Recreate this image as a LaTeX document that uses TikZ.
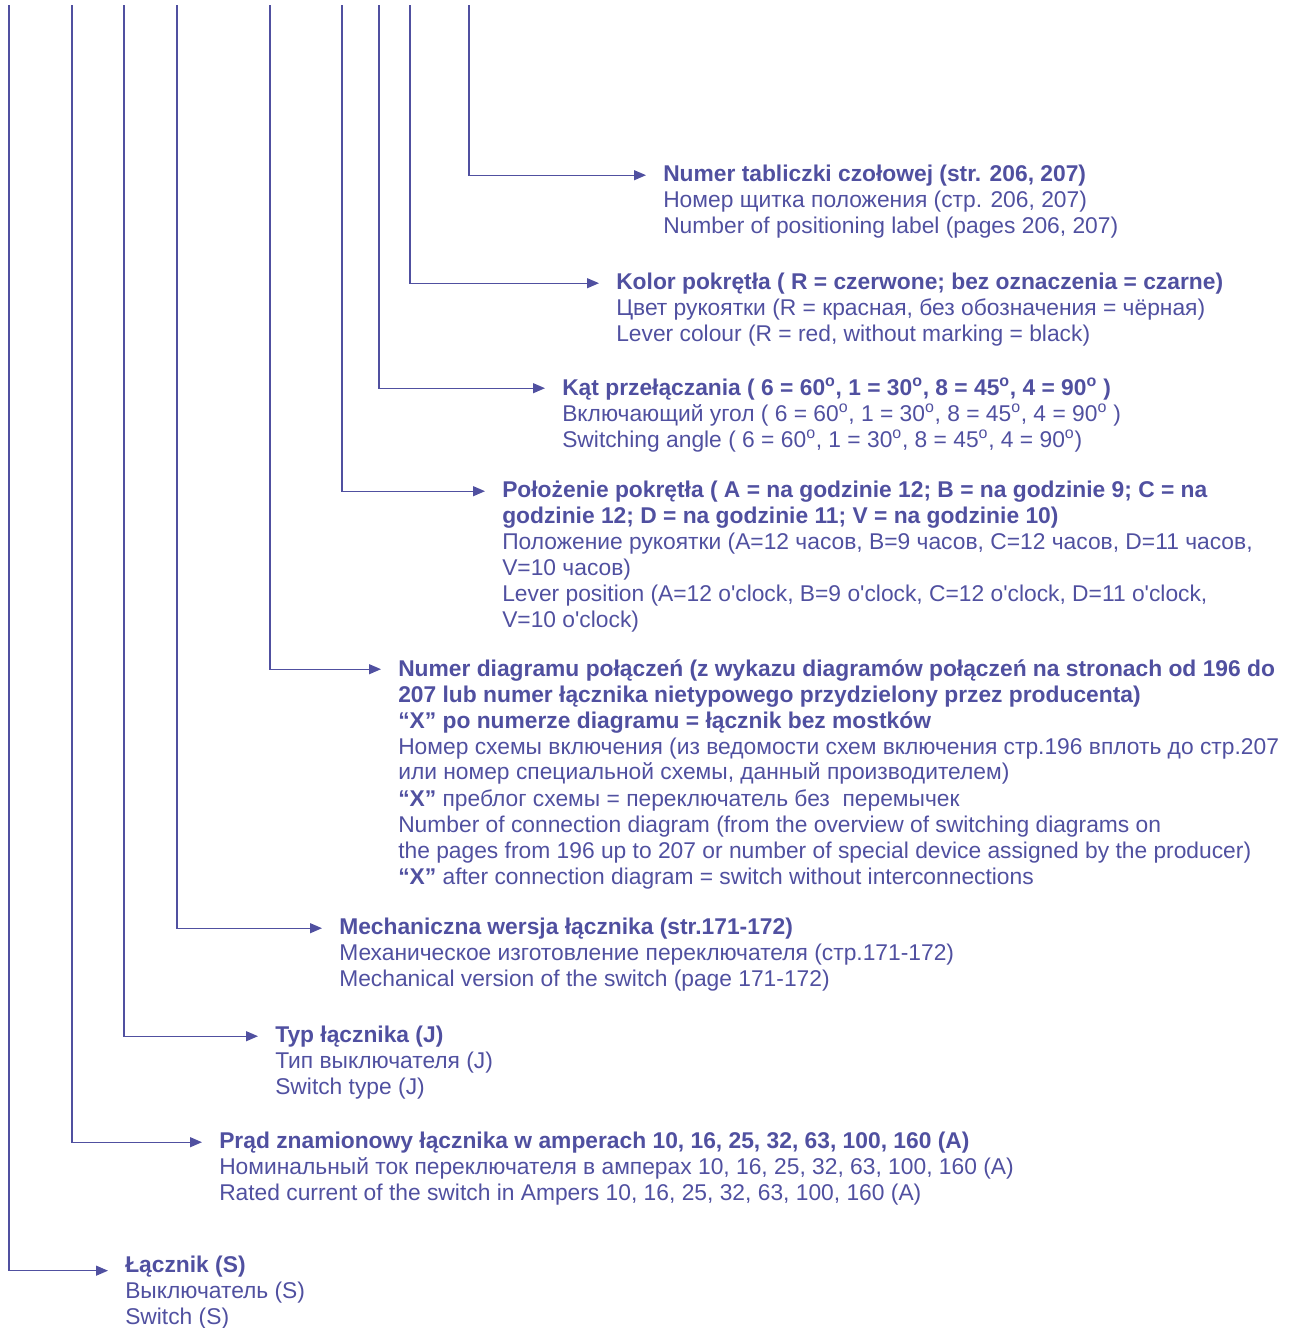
\documentclass[tikz,border=0pt]{standalone}
\usepackage{fontspec}
\setmainfont{Liberation Sans}
\usetikzlibrary{arrows.meta}
\definecolor{legblue}{RGB}{80,80,160}

\begin{document}
\begin{tikzpicture}[x=0.75pt,y=-0.75pt]
    \useasboundingbox (0,0) rectangle (1290,1328);
    \tikzset{LegendStyle/.style={anchor=north west, inner sep=0pt, align=left,
        text=legblue, font=\fontsize{17.1}{19.5}\selectfont,
        execute at begin node=\strut}}
    \tikzset{LeadStyle/.style={draw=legblue, line width=0.9pt,
        -{Triangle[length=9pt,width=7.5pt]}, shorten >=12.75pt}}

    \coordinate (topPlate)  at (469,5);
    \coordinate (topColour) at (410,5);
    \coordinate (topAngle)  at (379,5);
    \coordinate (topLever)  at (342,5);
    \coordinate (topDiag)   at (270,5);
    \coordinate (topMech)   at (177,5);
    \coordinate (topType)   at (124,5);
    \coordinate (topAmp)    at (72,5);
    \coordinate (topSwitch) at (9,5);

    \node[LegendStyle] (Plate) at (663,165)
        {\textbf{Numer tabliczki czołowej (str. 206, 207)}\\
         Номер щитка положения (стр. 206, 207)\\
         Number of positioning label (pages 206, 207)};
    \node[LegendStyle] (Colour) at (616,273)
        {\textbf{Kolor pokrętła ( R = czerwone; bez oznaczenia = czarne)}\\
         Цвет рукоятки (R = красная, без обозначения = чёрная)\\
         Lever colour (R = red, without marking = black)};
    \node[LegendStyle] (Angle) at (562,378)
        {\textbf{Kąt przełączania ( 6 = 60\textsuperscript{o}, 1 = 30\textsuperscript{o}, 8 = 45\textsuperscript{o}, 4 = 90\textsuperscript{o} )}\\
         Включающий угол ( 6 = 60\textsuperscript{o}, 1 = 30\textsuperscript{o}, 8 = 45\textsuperscript{o}, 4 = 90\textsuperscript{o} )\\
         Switching angle ( 6 = 60\textsuperscript{o}, 1 = 30\textsuperscript{o}, 8 = 45\textsuperscript{o}, 4 = 90\textsuperscript{o})};
    \node[LegendStyle] (Lever) at (502,481)
        {\textbf{Położenie pokrętła ( A = na godzinie 12; B = na godzinie 9; C = na}\\
         \textbf{godzinie 12; D = na godzinie 11; V = na godzinie 10)}\\
         Положение рукоятки (A=12 часов, B=9 часов, C=12 часов, D=11 часов,\\
         V=10 часов)\\
         Lever position (A=12 o\textquotesingle clock, B=9 o\textquotesingle clock, C=12 o\textquotesingle clock, D=11 o\textquotesingle clock,\\
         V=10 o\textquotesingle clock)};
    \node[LegendStyle] (Diag) at (398,659)
        {\textbf{Numer diagramu połączeń (z wykazu diagramów połączeń na stronach od 196 do}\\
         \textbf{207 lub numer łącznika nietypowego przydzielony przez producenta)}\\
         \textbf{“X” po numerze diagramu = łącznik bez mostków}\\
         Номер схемы включения (из ведомости схем включения стр.196 вплоть до стр.207\\
         или номер специальной схемы, данный производителем)\\
         \textbf{“X”} преблог схемы = переключатель без\ \ перемычек\\
         Number of connection diagram (from the overview of switching diagrams on\\
         the pages from 196 up to 207 or number of special device assigned by the producer)\\
         \textbf{“X”} after connection diagram = switch without interconnections};
    \node[LegendStyle] (Mech) at (339,918)
        {\textbf{Mechaniczna wersja łącznika (str.171-172)}\\
         Механическое изготовление переключателя (стр.171-172)\\
         Mechanical version of the switch (page 171-172)};
    \node[LegendStyle] (Type) at (275,1026)
        {\textbf{Typ łącznika (J)}\\
         Тип выключателя (J)\\
         Switch type (J)};
    \node[LegendStyle] (Amp) at (219,1132)
        {\textbf{Prąd znamionowy łącznika w amperach 10, 16, 25, 32, 63, 100, 160 (A)}\\
         Номинальный ток переключателя в амперах 10, 16, 25, 32, 63, 100, 160 (A)\\
         Rated current of the switch in Ampers 10, 16, 25, 32, 63, 100, 160 (A)};
    \node[LegendStyle] (Switch) at (125,1256)
        {\textbf{Łącznik (S)}\\
         Выключатель (S)\\
         Switch (S)};

    \draw[LeadStyle] (topPlate)  |- ([yshift=-7.65pt]Plate.north west);
    \draw[LeadStyle] (topColour) |- ([yshift=-7.65pt]Colour.north west);
    \draw[LeadStyle] (topAngle)  |- ([yshift=-7.65pt]Angle.north west);
    \draw[LeadStyle] (topLever)  |- ([yshift=-7.65pt]Lever.north west);
    \draw[LeadStyle] (topDiag)   |- ([yshift=-7.65pt]Diag.north west);
    \draw[LeadStyle] (topMech)   |- ([yshift=-7.65pt]Mech.north west);
    \draw[LeadStyle] (topType)   |- ([yshift=-7.65pt]Type.north west);
    \draw[LeadStyle] (topAmp)    |- ([yshift=-7.65pt]Amp.north west);
    \draw[LeadStyle] (topSwitch) |- ([yshift=-11pt]Switch.north west);
\end{tikzpicture}
\end{document}
